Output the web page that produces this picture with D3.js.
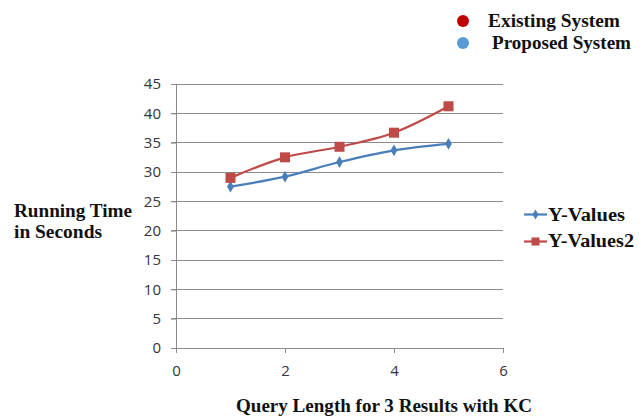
<!DOCTYPE html>
<html><head><meta charset="utf-8">
<script src="https://cdn.jsdelivr.net/npm/d3@7"></script>
<style>body{margin:0;background:#fff}svg{display:block}</style>
</head><body>
<svg id="c" width="644" height="417"></svg>
<script>
const xValues = [1, 2, 3, 4, 5];
const series1 = [27.5, 29.2, 31.7, 33.7, 34.8]; // Y-Values
const series2 = [29.0, 32.5, 34.3, 36.7, 41.2]; // Y-Values2
const xTicks = [0, 2, 4, 6];
const yTicks = [0, 5, 10, 15, 20, 25, 30, 35, 40, 45];
const seriesNames = ["Y-Values", "Y-Values2"];
const topLegend = ["Existing System", "Proposed System"];

const svg = d3.select("#c");
const x = d3.scaleLinear().domain([0, 6]).range([176, 503]);
const y = d3.scaleLinear().domain([0, 45]).range([348, 84]);
const tickFont = "Open Sans, sans-serif";
const tickColor = "#333344";
const gridColor = "#8c8c8c";

// gridlines
svg.append("g").selectAll("line").data(yTicks).join("line")
  .attr("x1", 171).attr("x2", x(6)).attr("y1", d => y(d)).attr("y2", d => y(d))
  .attr("stroke", gridColor).attr("stroke-width", 1).attr("shape-rendering", "crispEdges");

// y axis
const yAxis = d3.axisLeft(y).tickValues(yTicks).tickSize(5).tickPadding(10).tickFormat(d3.format("d"));
const gy = svg.append("g").attr("transform", `translate(${x(0)},0)`).call(yAxis);
gy.select(".domain").attr("stroke", gridColor);
gy.selectAll(".tick line").attr("stroke", gridColor);
gy.selectAll("text").attr("font-family", tickFont).attr("font-size", 15).attr("fill", tickColor);

// x axis
const xAxis = d3.axisBottom(x).tickValues(xTicks).tickSize(5).tickPadding(12).tickSizeOuter(0).tickFormat(d3.format("d"));
const gx = svg.append("g").attr("transform", `translate(0,${y(0)})`).call(xAxis);
gx.select(".domain").attr("stroke", gridColor);
gx.selectAll(".tick line").attr("stroke", gridColor);
gx.selectAll("text").attr("font-family", tickFont).attr("font-size", 15).attr("fill", tickColor);

const line = d3.line().x((d, i) => x(xValues[i])).y(d => y(d)).curve(d3.curveCatmullRom.alpha(0.5));
const blue = "#4a7ebb", red = "#be4b48";

svg.append("path").datum(series2).attr("d", line).attr("fill", "none").attr("stroke", red).attr("stroke-width", 2.2);
svg.append("path").datum(series1).attr("d", line).attr("fill", "none").attr("stroke", blue).attr("stroke-width", 2.2);

const diamond = d3.symbol().type(d3.symbolDiamond).size(40);
svg.append("g").selectAll("path").data(series1).join("path")
  .attr("d", diamond).attr("transform", (d, i) => `translate(${x(xValues[i])},${y(d)})`).attr("fill", blue);
svg.append("g").selectAll("rect").data(series2).join("rect")
  .attr("x", (d, i) => x(xValues[i]) - 5).attr("y", d => y(d) - 5)
  .attr("width", 10).attr("height", 10).attr("fill", red);

const serif = "Liberation Serif, Times New Roman, serif";
function label(sel, txt, xx, yy, len, anchor) {
  const t = sel.append("text").attr("x", xx).attr("y", yy).text(txt)
    .attr("font-family", serif).attr("font-weight", "bold").attr("font-size", 18).attr("fill", "#111")
    .attr("textLength", len).attr("lengthAdjust", "spacingAndGlyphs");
  if (anchor) t.attr("text-anchor", anchor);
  return t;
}

// series legend
const lg = svg.append("g");
const ly = [214.5, 241.5];
lg.append("line").attr("x1", 524).attr("x2", 547).attr("y1", ly[0]).attr("y2", ly[0]).attr("stroke", blue).attr("stroke-width", 2.2);
lg.append("path").attr("d", d3.symbol().type(d3.symbolDiamond).size(30)).attr("transform", `translate(535.5,${ly[0]})`).attr("fill", blue);
lg.append("line").attr("x1", 524).attr("x2", 547).attr("y1", ly[1]).attr("y2", ly[1]).attr("stroke", red).attr("stroke-width", 2.2);
lg.append("rect").attr("x", 531.5).attr("y", ly[1] - 4).attr("width", 8).attr("height", 8).attr("fill", red);
label(lg, seriesNames[0], 548, 220.5, 77);
label(lg, seriesNames[1], 548, 246.5, 86);

// top legend
const tl = svg.append("g");
const tColors = ["#c00000", "#5b9bd5"];
tl.append("circle").attr("cx", 463).attr("cy", 21).attr("r", 6).attr("fill", tColors[0]);
tl.append("circle").attr("cx", 463).attr("cy", 43).attr("r", 6).attr("fill", tColors[1]);
label(tl, topLegend[0], 488, 27, 132);
label(tl, topLegend[1], 492, 48.5, 139);

// axis titles
label(svg, "Running Time", 14, 216.5, 118);
label(svg, "in Seconds", 14, 238, 88);
label(svg, "Query Length for 3 Results with KC", 236, 412, 296);
</script>
</body></html>
